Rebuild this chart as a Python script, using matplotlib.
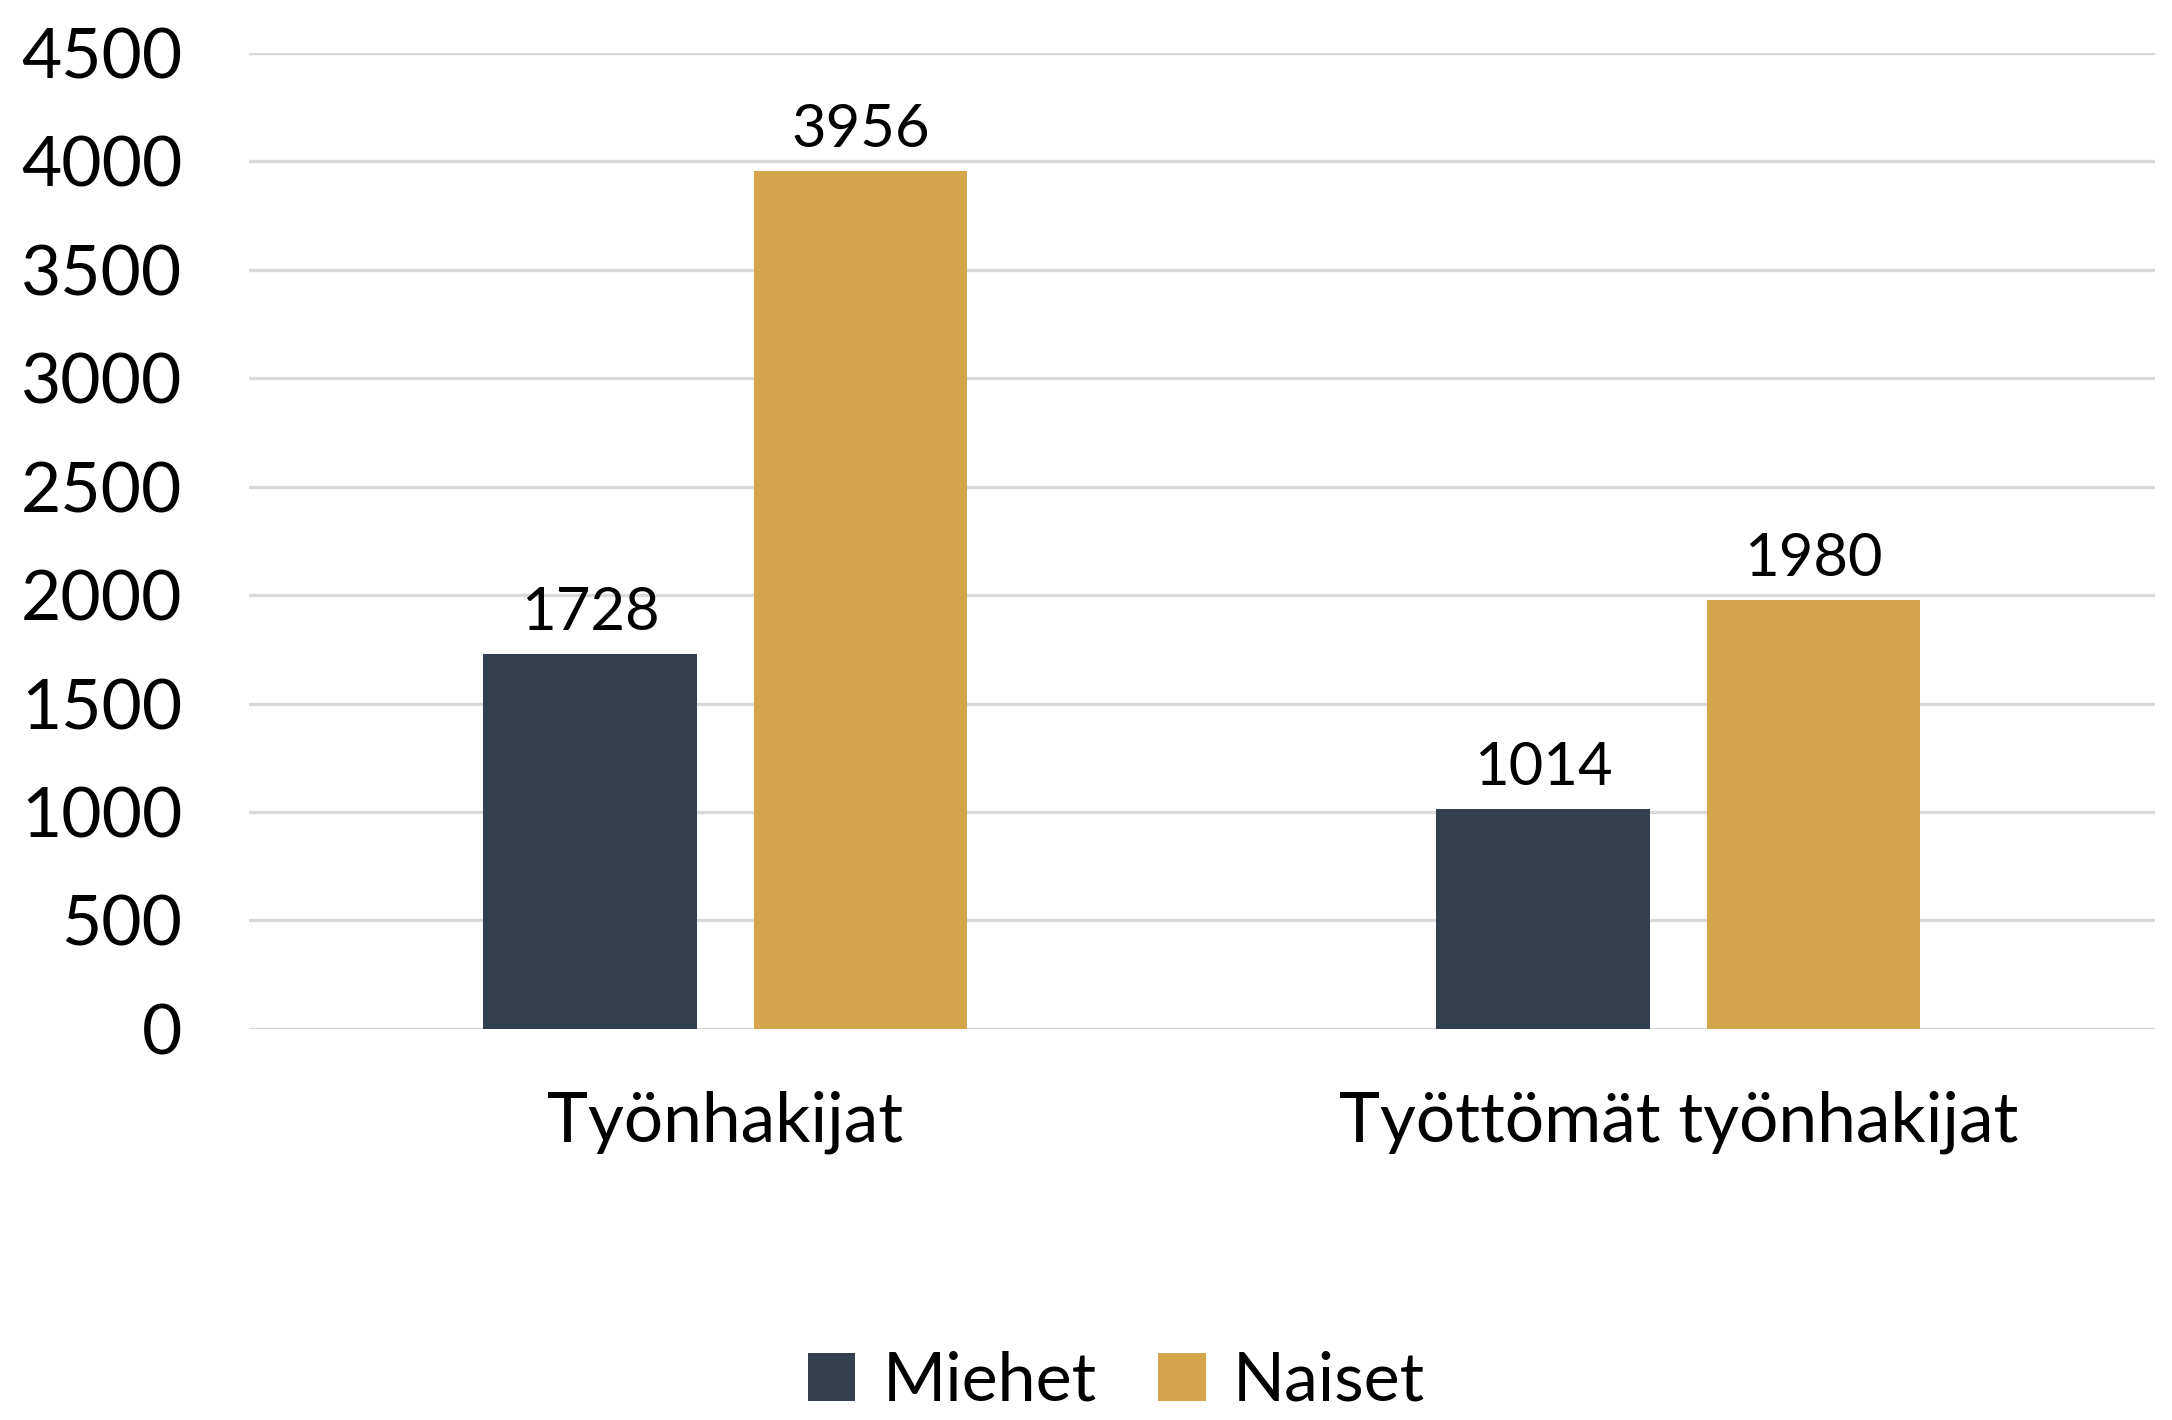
import matplotlib.pyplot as plt
import numpy as np

plt.rcParams['font.family'] = ['Lato', 'DejaVu Sans']

categories = ['Työnhakijat', 'Työttömät työnhakijat']
series = ['Miehet', 'Naiset']
miehet = [1728, 1014]
naiset = [3956, 1980]
colors = ['#323F4F', '#D4A54A']

fig = plt.figure(figsize=(10.86, 7.1), dpi=200)
ax = fig.add_axes([0.1146, 0.2754, 0.8774, 0.6873])

x = np.arange(len(categories))
w = 0.224
off = 0.142
b1 = ax.bar(x - off, miehet, w, color=colors[0], label=series[0], zorder=2)
b2 = ax.bar(x + off, naiset, w, color=colors[1], label=series[1], zorder=2)
for bars in (b1, b2):
    ax.bar_label(bars, padding=5, fontsize=21.5, color='black')

ax.set_xlim(-0.5, 1.5)
ax.set_ylim(0, 4500)
ax.set_yticks(range(0, 4501, 500))
ax.tick_params(axis='y', labelsize=25, length=0, pad=24)
ax.set_xticks(x)
ax.set_xticklabels(categories)
ax.tick_params(axis='x', labelsize=25, length=0, pad=22)
ax.grid(axis='y', color='#D9D9D9', linewidth=1.2, zorder=0)
for s in ax.spines.values():
    s.set_visible(False)

fig.legend(loc='lower center', bbox_to_anchor=(0.514, -0.038), ncol=2, frameon=False,
           fontsize=24.5, handlelength=0.7, handleheight=0.7, handletextpad=0.4,
           columnspacing=0.9)

fig.savefig('out.png')
